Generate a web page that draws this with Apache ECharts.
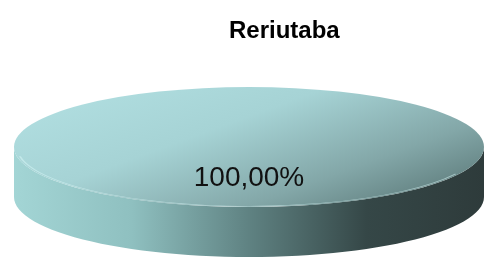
<!DOCTYPE html>
<html>
<head>
<meta charset="utf-8">
<script src="https://cdn.jsdelivr.net/npm/echarts@6/dist/echarts.min.js"></script>
<style>
  html, body { margin: 0; padding: 0; background: #fff; }
  #chart { width: 484px; height: 257px; }
</style>
</head>
<body>
<div id="chart"></div>
<script>
// dados
const titulo = 'Reriutaba';
const categorias = ['Reriutaba'];
const valores = [100];

const total = valores.reduce((a, b) => a + b, 0);

// geometria do disco
const cx = 249, cy = 147, rx = 235, ry = 60, altura = 50;

const corTopo = new echarts.graphic.LinearGradient(0, 0, 1, 0.7, [
  { offset: 0, color: '#b3e1e3' },
  { offset: 0.45, color: '#a6d3d5' },
  { offset: 0.8, color: '#83a7a8' },
  { offset: 1, color: '#668585' }
]);
const corLado = new echarts.graphic.LinearGradient(0, 0, 1, 0, [
  { offset: 0, color: '#a3d5d5' },
  { offset: 0.25, color: '#8fc0c0' },
  { offset: 0.5, color: '#5f8282' },
  { offset: 0.75, color: '#354747' },
  { offset: 1, color: '#2e3b3b' }
]);

function renderItem(params, api) {
  const idx = params.dataIndex;
  let inicio = 0;
  for (let i = 0; i < idx; i++) inicio += valores[i] / total * Math.PI * 2;
  const fim = inicio + api.value(1) / total * Math.PI * 2;
  const k = ry / rx;

  // lado frontal (parte de 0 a PI, em baixo)
  const a0 = Math.max(inicio, 0), a1 = Math.min(fim, Math.PI);
  const filhos = [];
  if (a1 > a0) {
    const p = (a, dy) => [cx + rx * Math.cos(a), cy + ry * Math.sin(a) + dy];
    const passos = 60;
    let d = '';
    for (let s = 0; s <= passos; s++) {
      const q = p(a0 + (a1 - a0) * s / passos, 0);
      d += (s === 0 ? 'M' : 'L') + q[0].toFixed(2) + ' ' + q[1].toFixed(2) + ' ';
    }
    for (let s = passos; s >= 0; s--) {
      const q = p(a0 + (a1 - a0) * s / passos, altura);
      d += 'L' + q[0].toFixed(2) + ' ' + q[1].toFixed(2) + ' ';
    }
    d += 'Z';
    filhos.push({ type: 'path', shape: { pathData: d }, style: { fill: corLado } });
  }
  // topo
  filhos.push({
    type: 'group',
    x: cx, y: cy, scaleY: k,
    children: [{
      type: 'sector',
      shape: { cx: 0, cy: 0, r: rx, r0: 0, startAngle: inicio, endAngle: fim },
      style: { fill: corTopo }
    }, {
      type: 'arc',
      shape: { cx: 0, cy: 0, r: rx - 3, startAngle: 0.15 * Math.PI, endAngle: 0.95 * Math.PI },
      style: { stroke: 'rgba(215,245,246,0.55)', lineWidth: 2, fill: null }
    }]
  });
  filhos.push({
    type: 'text',
    x: cx, y: cy + 31,
    style: {
      text: (api.value(1) / total * 100).toFixed(2).replace('.', ',') + '%',
      fill: '#111', font: '28px "Liberation Sans", Arial, sans-serif',
      align: 'center', verticalAlign: 'middle'
    }
  });
  return { type: 'group', children: filhos };
}

const chart = echarts.init(document.getElementById('chart'));
chart.setOption({
  animation: false,
  title: {
    text: titulo, left: 224, top: 14,
    textStyle: { fontFamily: 'Liberation Sans', fontWeight: 'bold', fontSize: 24, color: '#000' }
  },
  series: [{
    type: 'custom',
    coordinateSystem: 'none',
    renderItem: renderItem,
    data: categorias.map((c, i) => ({ name: c, value: [i, valores[i]] }))
  }]
});
</script>
</body>
</html>
